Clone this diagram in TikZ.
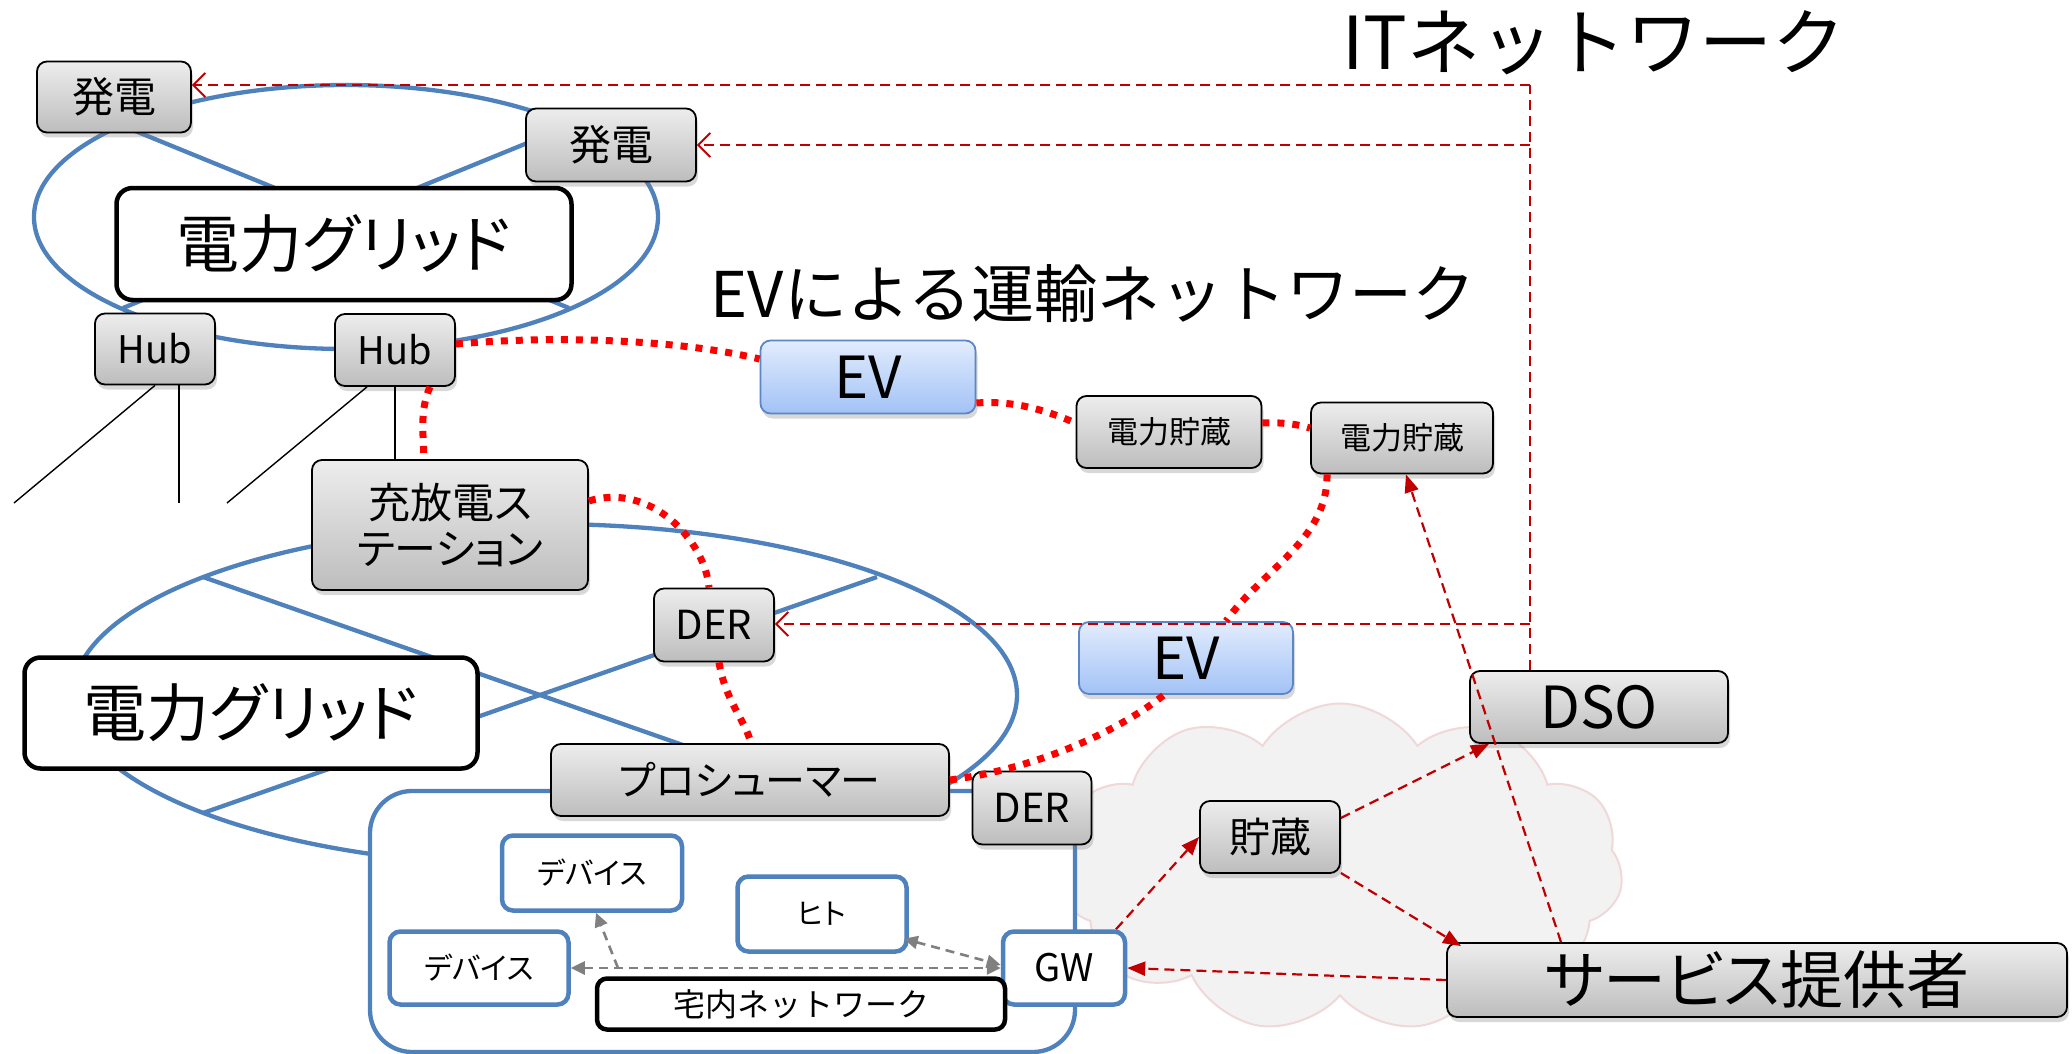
\documentclass[tikz,border=0pt]{standalone}
\usepackage{fontspec}
\setmainfont{Noto Sans CJK JP}[RawFeature=+palt]
\newfontfamily\jpfull{Noto Sans CJK JP}
\usetikzlibrary{arrows.meta,shapes.symbols,shadows}
\definecolor{gblue}{HTML}{4F81BD}
\definecolor{itred}{HTML}{C00000}
\definecolor{boxtop}{HTML}{EDEDED}
\definecolor{boxbot}{HTML}{BDBDBD}
\definecolor{evtop}{HTML}{E2ECFD}
\definecolor{evbot}{HTML}{A2C2F6}
\definecolor{evline}{HTML}{5B86C8}
\definecolor{cloudfill}{HTML}{F2F2F2}
\definecolor{cloudline}{HTML}{F0D8D8}
\definecolor{garr}{HTML}{808080}
\tikzset{
  gbox/.style={draw=black, line width=1.8pt, rounded corners=10pt, top color=boxtop, bottom color=boxbot,
    drop shadow={shadow xshift=2pt, shadow yshift=-5pt, opacity=0.3}, inner sep=0pt, align=center},
  evbox/.style={draw=evline, line width=1.8pt, rounded corners=10pt, top color=evtop, bottom color=evbot,
    drop shadow={shadow xshift=2pt, shadow yshift=-5pt, opacity=0.3}, inner sep=0pt},
  wbox/.style={draw=gblue, line width=4.5pt, fill=white, rounded corners=11pt, inner sep=0pt},
  kbox/.style={draw=black, line width=4.5pt, fill=white, rounded corners=16pt, inner sep=0pt},
  gline/.style={draw=gblue, line width=4.3pt},
  hline/.style={draw=black, line width=1.4pt},
  rdot/.style={draw=red, line width=7pt, dash pattern=on 7pt off 8pt},
  itline/.style={draw=itred, line width=2pt, dash pattern=on 10pt off 6pt},
  itopen/.style={-{Straight Barb[length=12pt,width=24pt,line width=2pt]}},
  itfill/.style={draw=itred, line width=2.2pt, dash pattern=on 10pt off 6pt, -{Triangle[length=18pt,width=14pt]}},
  garrow/.style={draw=garr, line width=2.6pt, dash pattern=on 9pt off 6pt},
}
\begin{document}
\begin{tikzpicture}[x=1pt,y=-1pt]
\useasboundingbox (0,0) rectangle (2072,1054);
\fill[white] (0,0) rectangle (2072,1054);

% cloud
\node[cloud, cloud puffs=11, cloud puff arc=115, aspect=1.7, minimum width=566pt, minimum height=329pt,
  fill=cloudfill, draw=cloudline, line width=2pt] (cloud) at (1340,868) {};

% titles
\node[font=\jpfull\fontsize{73}{80}\selectfont, inner sep=0pt] (ittitle) at (1594,43) {ITネットワーク};
\node[font=\jpfull\fontsize{63}{70}\selectfont, inner sep=0pt] (evtitle) at (1093,294) {EVによる運輸ネットワーク};

% upper grid ellipse and cross lines
\draw[gline] (346,217) ellipse [x radius=312pt, y radius=132pt];
\draw[gline] (123,126) -- (569,308);
\draw[gline] (569,126) -- (123,308);

% lower grid ellipse and cross lines
\draw[gline] (545,695) ellipse [x radius=472pt, y radius=171pt];
\draw[gline] (203,577) -- (877,813);
\draw[gline] (203,813) -- (877,577);

% home box
\draw[gline, fill=white, rounded corners=42pt] (370,791) rectangle (1075,1052);

% nodes
\node[gbox, minimum width=154pt, minimum height=71pt, font=\fontsize{42}{46}\selectfont] (gen1) at (114,97) {発電};
\node[gbox, minimum width=170pt, minimum height=73pt, font=\fontsize{42}{46}\selectfont] (gen2) at (611,145) {発電};
\node[kbox, minimum width=455pt, minimum height=112pt, font=\fontsize{63}{70}\selectfont] (grid1) at (344,244) {電力グリッド};
\node[gbox, minimum width=120pt, minimum height=71pt, font=\fontsize{38}{42}\selectfont] (hub1) at (155,349) {Hub};
\node[gbox, minimum width=120pt, minimum height=72pt, font=\fontsize{38}{42}\selectfont] (hub2) at (395,350) {Hub};
\node[gbox, minimum width=276pt, minimum height=130pt, font=\fontsize{42}{46}\selectfont] (station) at (450,525) {充放電ス\\テーション};
\node[gbox, minimum width=120pt, minimum height=73pt, font=\fontsize{40}{44}\selectfont] (der1) at (714,625) {DER};
\node[kbox, minimum width=453pt, minimum height=111pt, font=\fontsize{63}{70}\selectfont] (grid2) at (251,713) {電力グリッド};
\node[gbox, minimum width=398pt, minimum height=72pt, font=\fontsize{40}{44}\selectfont] (pros) at (750,780) {プロシューマー};
\node[gbox, minimum width=119pt, minimum height=73pt, font=\fontsize{40}{44}\selectfont] (der2) at (1032,808) {DER};
\node[evbox, minimum width=215pt, minimum height=73pt, font=\fontsize{58}{62}\selectfont] (ev1) at (868,377) {EV};
\node[gbox, minimum width=185pt, minimum height=72pt, font=\fontsize{31}{35}\selectfont] (stor1) at (1169,432) {電力貯蔵};
\node[gbox, minimum width=182pt, minimum height=71pt, font=\fontsize{31}{35}\selectfont] (stor2) at (1402,438) {電力貯蔵};
\node[evbox, minimum width=214pt, minimum height=72pt, font=\fontsize{58}{62}\selectfont] (ev2) at (1186,658) {EV};
\node[gbox, minimum width=258pt, minimum height=72pt, font=\fontsize{58}{62}\selectfont] (dso) at (1599,707) {DSO};
\node[gbox, minimum width=140pt, minimum height=72pt, font=\fontsize{41}{45}\selectfont] (chozo) at (1270,837) {貯蔵};
\node[gbox, minimum width=620pt, minimum height=74pt, font=\fontsize{63}{68}\selectfont] (svc) at (1757,980) {サービス提供者};
\node[wbox, minimum width=122pt, minimum height=73pt, font=\fontsize{38}{42}\selectfont] (gw) at (1064,968) {GW};
\node[wbox, minimum width=180pt, minimum height=75pt, font=\fontsize{30}{33}\selectfont] (dev1) at (592,873) {デバイス};
\node[wbox, minimum width=179pt, minimum height=73pt, font=\fontsize{30}{33}\selectfont] (dev2) at (479,968) {デバイス};
\node[wbox, minimum width=169pt, minimum height=75pt, font=\fontsize{29}{33}\selectfont] (hito) at (822,914) {ヒト};
\node[kbox, minimum width=408pt, minimum height=51pt, rounded corners=10pt, font=\jpfull\fontsize{32}{36}\selectfont] (home) at (801,1004) {宅内ネットワーク};

% hub feeder lines
\coordinate (f1) at (14,503);
\coordinate (f2) at (179,503);
\coordinate (f3) at (227,503);
\draw[hline] (hub1.south) -- (f1);
\draw[hline] ([xshift=24pt]hub1.south) -- (f2);
\draw[hline] ([xshift=-28pt]hub2.south) -- (f3);
\draw[hline] (hub2.south) -- (hub2.south |- station.north);

% red dotted power/EV links
\draw[rdot] ([yshift=6pt]hub2.east) .. controls (560,335) and (680,340) .. ([yshift=18pt]ev1.west);
\draw[rdot] ([xshift=35pt]hub2.south) .. controls (420,410) and (423,430) .. ([xshift=-26pt]station.north);
\draw[rdot] ([yshift=-26pt]ev1.east) .. controls (1016,400) and (1050,412) .. ([yshift=9pt]stor1.west);
\draw[rdot] ([yshift=9pt]stor1.east) .. controls (1285,422) and (1300,425) .. ([yshift=10pt]stor2.west);
\draw[rdot] ([xshift=-75pt]stor2.south) .. controls (1328,540) and (1262,570) .. ([xshift=40pt]ev2.north);
\draw[rdot] (pros.east) .. controls (1040,768) and (1120,730) .. ([xshift=-22pt]ev2.south);
\draw[rdot] ([yshift=24pt]station.east) .. controls (650,482) and (705,540) .. ([xshift=-5pt]der1.north);
\draw[rdot] ([xshift=5pt]der1.south) .. controls (725,700) and (745,720) .. ([xshift=1pt]pros.north);

% IT network
\coordinate (itTop) at (1530,85);
\coordinate (it2) at (1530,145);
\coordinate (it3) at (1530,624);
\draw[itline] ([xshift=-69pt]dso.north) -- (itTop);
\draw[itline, itopen] (itTop) -- (gen1.east |- itTop);
\draw[itline, itopen] (it2) -- (gen2.east);
\draw[itline, itopen] (it3) -- (der1.east |- it3);

\draw[itfill] ([xshift=-196pt]svc.north) -- ([xshift=4pt]stor2.south);
\draw[itfill] ([yshift=19pt]chozo.east) -- ([xshift=-110pt]dso.south);
\draw[itfill] ([yshift=-36pt]chozo.east) -- ([shift={(-296pt,-4pt)}]svc.north);
\draw[itfill] ([xshift=52pt]gw.north) -- (chozo.west);
\draw[itfill] (svc.west) -- (gw.east);

% home network
\coordinate (br) at (618,968);
\draw[garrow, {Triangle[length=14pt,width=13pt]}-{Triangle[length=14pt,width=13pt]}] (dev2.east) -- (gw.west);
\draw[garrow, -{Triangle[length=14pt,width=13pt]}] (br) -- ([xshift=4pt]dev1.south);
\draw[garrow, {Triangle[length=14pt,width=13pt]}-{Triangle[length=14pt,width=13pt]}] ([shift={(-5pt,15pt)}]hito.south east) -- ([yshift=3pt]gw.west);
\end{tikzpicture}
\end{document}
